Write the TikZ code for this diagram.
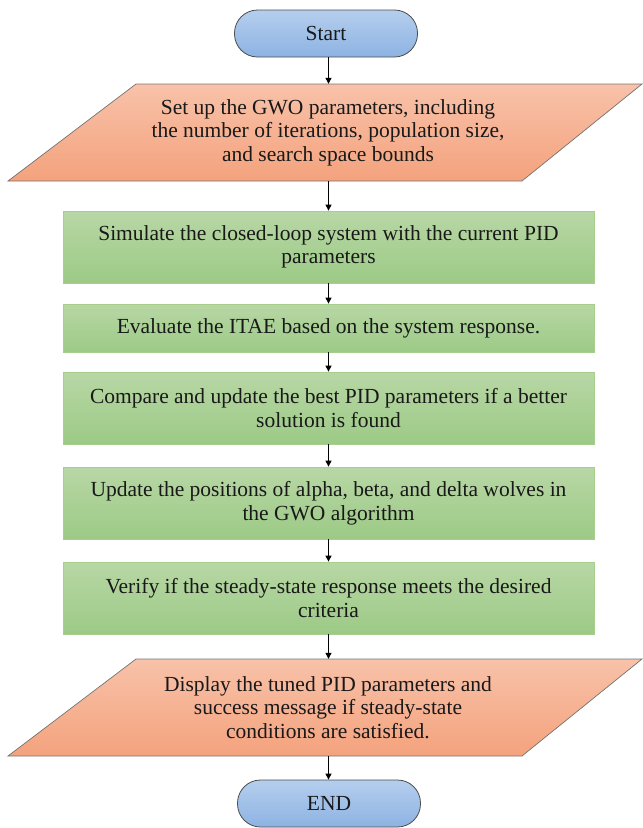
\documentclass[tikz,border=0pt]{standalone}
\usepackage{fontspec}
\setmainfont{LiberationSerif}[Extension=.ttf, UprightFont=*-Regular, BoldFont=*-Bold, ItalicFont=*-Italic, BoldItalicFont=*-BoldItalic]
\usetikzlibrary{arrows.meta}
\definecolor{termtop}{HTML}{B5CEEE}
\definecolor{termbot}{HTML}{8DB3E2}
\definecolor{paratop}{HTML}{F8C2A9}
\definecolor{parabot}{HTML}{F4A27D}
\definecolor{proctop}{HTML}{B8D7A5}
\definecolor{procbot}{HTML}{9CCA86}
\definecolor{procline}{HTML}{A6CF8E}
\begin{document}
\begin{tikzpicture}[x=1pt,y=-1pt,
  txt/.style={font=\fontsize{21.5}{23.5}\selectfont, align=center, text=black!90},
  term/.style={txt, rounded corners=23pt, minimum width=183pt, minimum height=47pt,
    draw=black!70, line width=0.8pt, top color=termtop, bottom color=termbot, inner sep=0pt},
  proc/.style={txt, minimum width=531pt, draw=procline, line width=0.8pt,
    top color=proctop, bottom color=procbot, inner sep=0pt},
  paratext/.style={txt, minimum height=97pt, inner sep=0pt},
  parashape/.style={draw=black!55, line width=0.7pt, top color=paratop, bottom color=parabot},
  arr/.style={line width=1.1pt, -{Triangle[length=6pt,width=6pt]}}]
\useasboundingbox (0,0) rectangle (643,828);

\node[term] (start) at (326,33.5) {Start};

\path[parashape] (8,181) -- (522,181) -- (642,84) -- (136,84) -- cycle;
\node[paratext] (setup) at (328,132.5) {Set up the GWO parameters, including\\the number of iterations, population size,\\and search space bounds};

\node[proc, minimum height=72pt] (sim) at (328.5,247) {Simulate the closed-loop system with the current PID\\parameters};
\node[proc, minimum height=48pt] (eval) at (328.5,328) {Evaluate the ITAE based on the system response.};
\node[proc, minimum height=72pt] (comp) at (328.5,408) {Compare and update the best PID parameters if a better\\solution is found};
\node[proc, minimum height=72pt] (upd) at (328.5,503) {Update the positions of alpha, beta, and delta wolves in\\the GWO algorithm};
\node[proc, minimum height=72pt] (ver) at (328.5,598) {Verify if the steady-state response meets the desired\\criteria};

\path[parashape] (8,756) -- (522,756) -- (642,659) -- (136,659) -- cycle;
\node[paratext] (disp) at (328,707.5) {Display the tuned PID parameters and\\success message if steady-state\\conditions are satisfied.};

\node[term] (end) at (329,803.5) {END};

\draw[arr] (start.south -| sim.north) -- (setup.north -| sim.north);
\draw[arr] (setup.south -| sim.north) -- (sim.north);
\draw[arr] (sim) -- (eval);
\draw[arr] (eval) -- (comp);
\draw[arr] (comp) -- (upd);
\draw[arr] (upd) -- (ver);
\draw[arr] (ver.south) -- (disp.north -| ver.south);
\draw[arr] (disp.south -| ver.south) -- (end.north -| ver.south);
\end{tikzpicture}
\end{document}
